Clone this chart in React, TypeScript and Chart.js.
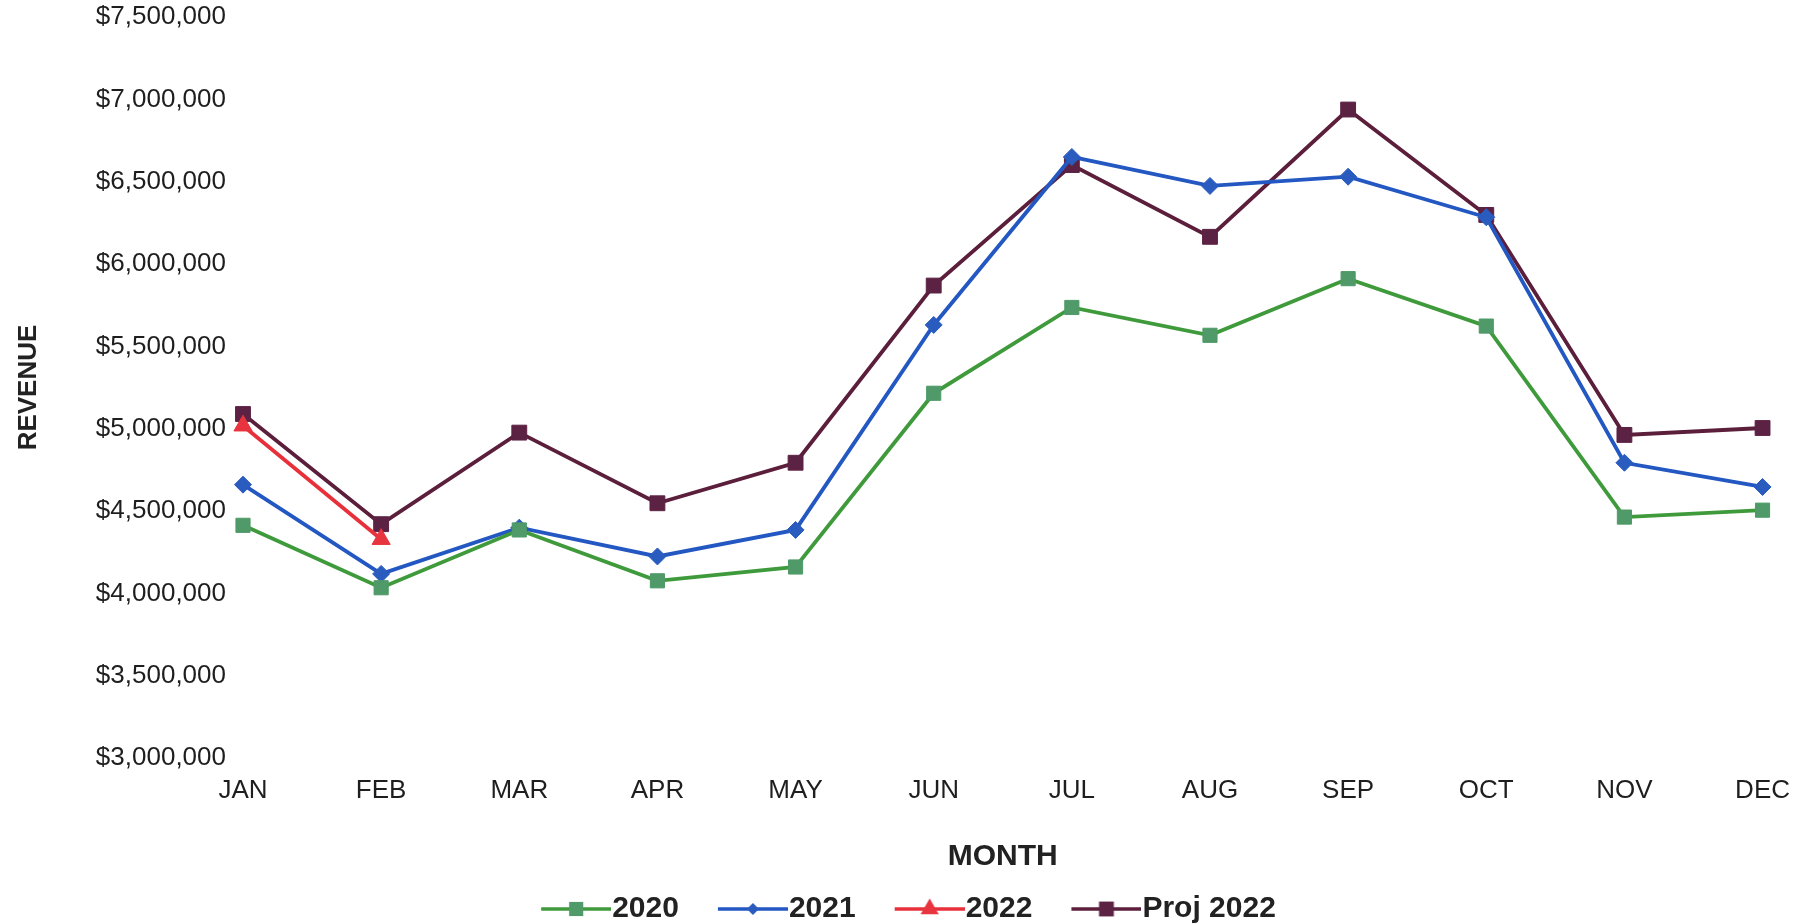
import React, { useEffect, useRef } from 'react';
import { Chart, registerables } from 'chart.js';

Chart.register(...registerables);

const months = ['JAN', 'FEB', 'MAR', 'APR', 'MAY', 'JUN', 'JUL', 'AUG', 'SEP', 'OCT', 'NOV', 'DEC'];

const revenue2020 = [4413000, 4034000, 4385000, 4076000, 4160000, 5215000, 5736000, 5567000, 5911000, 5623000, 4463000, 4505000];
const revenue2021 = [4660000, 4118000, 4399000, 4224000, 4385000, 5630000, 6650000, 6474000, 6530000, 6284000, 4793000, 4646000];
const revenue2022 = [5018000, 4329000];
const proj2022 = [5089000, 4420000, 4976000, 4547000, 4793000, 5869000, 6601000, 6165000, 6938000, 6298000, 4962000, 5004000];

const seriesNames = ['2020', '2021', '2022', 'Proj 2022'];

const Y_MIN = 3000000;
const Y_MAX = 7500000;
const Y_STEP = 500000;

const TICK_FONT = "'Liberation Sans', Arial, sans-serif";
const BOLD_FONT = "'Liberation Sans', Arial, sans-serif";

type Style = { line: string; fill: string; point: any; radius: number };
const styles: Style[] = [
  { line: '#3f9a3c', fill: '#4f9a68', point: 'rect', radius: 10 },
  { line: '#2357c2', fill: '#2a5cbf', point: 'rectRot', radius: 8.5 },
  { line: '#e8303b', fill: '#e8343e', point: 'triangle', radius: 10.5 },
  { line: '#5b1e3b', fill: '#5c2244', point: 'rect', radius: 10.5 },
];

function drawMarker(ctx: CanvasRenderingContext2D, kind: string, x: number, y: number, r: number) {
  ctx.beginPath();
  if (kind === 'rect') {
    const s = r * Math.SQRT1_2;
    ctx.rect(x - s, y - s, 2 * s, 2 * s);
  } else if (kind === 'rectRot') {
    const s = r * Math.SQRT1_2;
    ctx.moveTo(x - s, y);
    ctx.lineTo(x, y + s);
    ctx.lineTo(x + s, y);
    ctx.lineTo(x, y - s);
    ctx.closePath();
  } else {
    ctx.moveTo(x, y - r);
    ctx.lineTo(x + r * 0.866, y + r * 0.5);
    ctx.lineTo(x - r * 0.866, y + r * 0.5);
    ctx.closePath();
  }
  ctx.fill();
}

const ICON_LEFT = 43;
const ICON_LINE = 70;
const BOX_W = 85;
const LEFT_PAD = 20;

function makeIcon(st: Style): HTMLCanvasElement {
  const c = document.createElement('canvas');
  c.width = ICON_LEFT + ICON_LINE;
  c.height = 26;
  const ctx = c.getContext('2d')!;
  ctx.strokeStyle = st.line;
  ctx.lineWidth = 3.5;
  ctx.beginPath();
  ctx.moveTo(ICON_LEFT, 13);
  ctx.lineTo(ICON_LEFT + ICON_LINE, 13);
  ctx.stroke();
  ctx.fillStyle = st.fill;
  drawMarker(ctx, st.point, ICON_LEFT + ICON_LINE / 2, 13, st.radius);
  return c;
}

export default function App() {
  const ref = useRef<HTMLCanvasElement | null>(null);

  useEffect(() => {
    document.body.style.margin = '0';
    const canvas = ref.current!;
    const icons = styles.map(makeIcon);
    const values = [revenue2020, revenue2021, revenue2022, proj2022];

    const chart = new Chart(canvas, {
      type: 'line',
      data: {
        labels: months,
        datasets: values.map((v, i) => ({
          label: seriesNames[i],
          data: v,
          borderColor: styles[i].line,
          backgroundColor: styles[i].fill,
          pointBackgroundColor: styles[i].fill,
          pointBorderColor: styles[i].fill,
          pointBorderWidth: 1,
          pointStyle: styles[i].point,
          pointRadius: styles[i].radius,
          borderWidth: 3.8,
          tension: 0,
          fill: false,
          clip: false as any,
        })),
      },
      options: {
        responsive: false,
        animation: false,
        devicePixelRatio: 1,
        layout: { padding: { top: 17, right: 39, left: LEFT_PAD, bottom: -10 } },
        plugins: {
          tooltip: { enabled: false },
          legend: {
            position: 'bottom',
            labels: {
              usePointStyle: true,
              pointStyleWidth: BOX_W,
              padding: 10,
              color: '#222',
              font: { family: BOLD_FONT, size: 30, weight: 'bold' },
              generateLabels: (ch: any) => {
                const base = (Chart.defaults.plugins.legend.labels as any).generateLabels(ch);
                return base.map((item: any, i: number) => ({ ...item, pointStyle: icons[i], fontColor: '#222' }));
              },
            },
          },
        },
        scales: {
          x: {
            grid: { display: false, drawTicks: false },
            border: { display: false },
            ticks: {
              padding: 17,
              color: '#1e1e1e',
              font: { family: TICK_FONT, size: 26 },
              maxRotation: 0,
              autoSkip: false,
            },
            title: {
              display: true,
              text: 'MONTH',
              color: '#222',
              font: { family: BOLD_FONT, size: 30, weight: 'bold' },
              padding: { top: 30, bottom: 9 },
            },
            afterFit: (s: any) => {
              s.height = 126;
            },
          },
          y: {
            min: Y_MIN,
            max: Y_MAX,
            grid: { display: false, drawTicks: false },
            border: { display: false },
            ticks: {
              stepSize: Y_STEP,
              padding: 17,
              color: '#1e1e1e',
              font: { family: TICK_FONT, size: 26 },
              callback: (v: any) => '$' + Number(v).toLocaleString('en-US'),
            },
            title: {
              display: true,
              text: 'REVENUE',
              color: '#222',
              font: { family: BOLD_FONT, size: 26, weight: 'bold' },
              padding: { top: 13 - LEFT_PAD, bottom: 20 },
            },
            afterFit: (s: any) => {
              s.width = 243 - LEFT_PAD;
              s.paddingTop = 0;
              s.paddingBottom = 0;
            },
          },
        },
      },
    });
    return () => chart.destroy();
  }, []);

  return (
    <div style={{ width: 1807, height: 924, background: '#fff' }}>
      <canvas ref={ref} width={1807} height={924} style={{ display: 'block' }} />
    </div>
  );
}
